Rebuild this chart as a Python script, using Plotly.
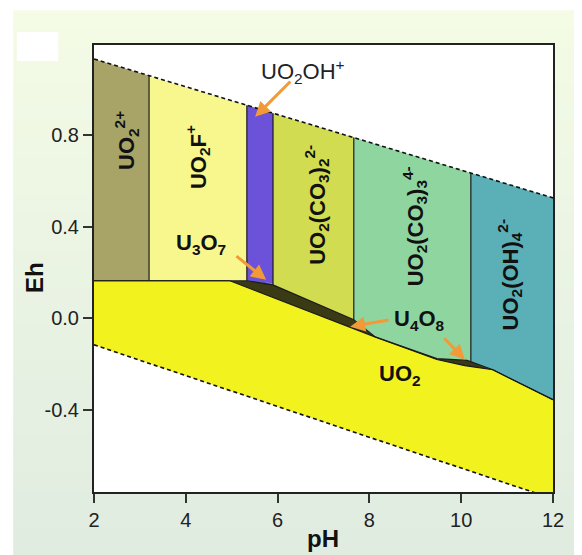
import numpy as np
import plotly.graph_objects as go

# ---------------- data ----------------
# water stability limits (dashed lines)
water_upper_ph = [2, 12]
water_upper_eh = [1.132, 0.525]
water_lower_ph = [2, 12]
water_lower_eh = [-0.117, -0.79]

# aqueous predominance fields (vertical boundaries in pH)
field_labels = [
    "<b>UO<sub>2</sub><sup>2+</sup></b>",
    "<b>UO<sub>2</sub>F<sup>+</sup></b>",
    "",
    "<b>UO<sub>2</sub>(CO<sub>3</sub>)<sub>2</sub><sup>2-</sup></b>",
    "<b>UO<sub>2</sub>(CO<sub>3</sub>)<sub>3</sub><sup>4-</sup></b>",
    "<b>UO<sub>2</sub>(OH)<sub>4</sub><sup>2-</sup></b>",
]
field_bounds_ph = [2, 3.20, 5.33, 5.90, 7.66, 10.21, 12]
field_colors = ["#A8A467", "#F7F78E", "#6B52D8", "#D2DC50", "#8FD5A0", "#5BAFB7"]
field_label_ph = [2.72, 4.27, None, 6.86, 8.99, 11.06]
field_label_eh = [0.774, 0.704, None, 0.495, 0.40, 0.19]

# lower boundary of aqueous fields (top of solid phases)
aq_bottom_ph = [2, 4.96, 5.33, 5.90, 7.66, 8.12, 9.47, 10.13, 10.69, 12]
aq_bottom_eh = [0.163, 0.163, 0.163, 0.145, -0.007, -0.082, -0.177, -0.185, -0.226, -0.357]

# top of UO2 field
uo2_top_ph = [2, 4.96, 8.12, 9.47, 10.08, 10.69, 12]
uo2_top_eh = [0.163, 0.163, -0.082, -0.181, -0.208, -0.226, -0.357]

# small U3O7 sliver
u3o7_ph = [5.72, 5.95, 6.08, 5.85]
u3o7_eh = [0.160, 0.146, 0.133, 0.150]

# callout arrows (head / tail)
arrow_head_ph = [5.51, 5.75, 7.58, 10.08]
arrow_head_eh = [0.879, 0.167, -0.038, -0.182]
arrow_tail_ph = [6.31, 5.07, 8.45, 9.60]
arrow_tail_eh = [1.040, 0.276, -0.007, -0.082]

x_ticks = [2, 4, 6, 8, 10, 12]
y_ticks = [-0.4, 0.0, 0.4, 0.8]
y_tick_text = ["-0.4", "0.0", "0.4", "0.8"]

# ---------------- figure ----------------
FONT = "Liberation Sans, Arial, sans-serif"
fig = go.Figure()


def upper(p):
    return float(np.interp(p, water_upper_ph, water_upper_eh))


def lower(p):
    return float(np.interp(p, water_lower_ph, water_lower_eh))


def aqbot(p):
    return float(np.interp(p, aq_bottom_ph, aq_bottom_eh))


# UO2 field
ux = list(uo2_top_ph) + [12, 2]
uy = list(uo2_top_eh) + [lower(12), lower(2)]
fig.add_trace(go.Scatter(x=ux, y=uy, fill="toself", fillcolor="#F2F21E",
                         mode="lines", line=dict(width=0), hoverinfo="skip"))

# dark U4O8/U3O7 bands between aqueous bottom and UO2 top
dx = list(aq_bottom_ph) + list(uo2_top_ph)[::-1]
dy = list(aq_bottom_eh) + list(uo2_top_eh)[::-1]
fig.add_trace(go.Scatter(x=dx, y=dy, fill="toself", fillcolor="#3A3A14",
                         mode="lines", line=dict(width=0, color="#3A3A14"), hoverinfo="skip"))

# aqueous fields
for i in range(len(field_colors)):
    a, b = field_bounds_ph[i], field_bounds_ph[i + 1]
    inner = [(p, e) for p, e in zip(aq_bottom_ph, aq_bottom_eh) if a < p < b]
    xs = [a, b, b] + [p for p, _ in inner[::-1]] + [a]
    ys = [upper(a), upper(b), aqbot(b)] + [e for _, e in inner[::-1]] + [aqbot(a)]
    fig.add_trace(go.Scatter(x=xs, y=ys, fill="toself", fillcolor=field_colors[i],
                             mode="lines", line=dict(width=0), hoverinfo="skip"))

# U3O7 sliver
fig.add_trace(go.Scatter(x=u3o7_ph, y=u3o7_eh, fill="toself", fillcolor="#D8D8D0",
                         mode="lines", line=dict(width=0), hoverinfo="skip"))

# boundary lines
bx, by = [], []
for p in field_bounds_ph[1:-1]:
    bx += [p, p, None]
    by += [aqbot(p), upper(p), None]
bx += list(aq_bottom_ph) + [None] + list(uo2_top_ph)
by += list(aq_bottom_eh) + [None] + list(uo2_top_eh)
fig.add_trace(go.Scatter(x=bx, y=by, mode="lines", line=dict(color="#1a1a1a", width=1.2),
                         hoverinfo="skip"))

# water lines (dashed)
fig.add_trace(go.Scatter(x=water_upper_ph, y=water_upper_eh, mode="lines",
                         line=dict(color="#111", width=1.6, dash="4px,3px"), hoverinfo="skip"))
fig.add_trace(go.Scatter(x=water_lower_ph, y=water_lower_eh, mode="lines",
                         line=dict(color="#111", width=1.6, dash="4px,3px"), hoverinfo="skip"))

LBL = 22
annotations = []
for lab, px, py in zip(field_labels, field_label_ph, field_label_eh):
    if px is None:
        continue
    annotations.append(dict(x=px, y=py, xref="x", yref="y", text=lab, showarrow=False,
                            textangle=-90, font=dict(family=FONT, size=LBL, color="#111")))
annotations.append(dict(x=8.67, y=-0.247, xref="x", yref="y", text="<b>UO<sub>2</sub></b>",
                        showarrow=False, font=dict(family=FONT, size=LBL, color="#111")))
annotations.append(dict(x=4.33, y=0.324, xref="x", yref="y", text="<b>U<sub>3</sub>O<sub>7</sub></b>",
                        showarrow=False, font=dict(family=FONT, size=LBL, color="#111")))
annotations.append(dict(x=9.10, y=-0.007, xref="x", yref="y", text="<b>U<sub>4</sub>O<sub>8</sub></b>",
                        showarrow=False, font=dict(family=FONT, size=LBL, color="#111")))
annotations.append(dict(x=6.55, y=1.076, xref="x", yref="y", text="UO<sub>2</sub>OH<sup>+</sup>",
                        showarrow=False, font=dict(family=FONT, size=LBL, color="#222")))
for hx, hy, tx, ty in zip(arrow_head_ph, arrow_head_eh, arrow_tail_ph, arrow_tail_eh):
    annotations.append(dict(x=hx, y=hy, xref="x", yref="y", ax=tx, ay=ty, axref="x", ayref="y",
                            text="", showarrow=True, arrowhead=2, arrowsize=1, arrowwidth=3,
                            arrowcolor="#F29A38"))
# axis titles
annotations.append(dict(x=0.499, y=-0.105, xref="paper", yref="paper", text="<b>pH</b>",
                        xanchor="center", yanchor="middle",
                        showarrow=False, font=dict(family=FONT, size=24, color="#111")))
annotations.append(dict(x=-0.1285, y=0.479, xref="paper", yref="paper", text="<b>Eh</b>",
                        xanchor="center", yanchor="middle",
                        textangle=-90, showarrow=False, font=dict(family=FONT, size=24, color="#111")))

# background gradient strips (paper coords)
shapes = []
n = 30
y_top, y_bot = 1.078, -0.16
c_top = np.array([244, 252, 230])
c_bot = np.array([225, 236, 225])
for k in range(n):
    t = k / (n - 1)
    c = (c_top * (1 - t) + c_bot * t).astype(int)
    y1 = y_top - (y_top - y_bot) * k / n
    y0 = y_top - (y_top - y_bot) * (k + 1) / n - 0.002
    shapes.append(dict(type="rect", xref="paper", yref="paper", x0=-0.176, x1=1.08,
                       y0=y0, y1=y1, fillcolor=f"rgb({c[0]},{c[1]},{c[2]})",
                       line=dict(width=0), layer="below"))
# white plot area and white box at top-left
shapes.append(dict(type="rect", xref="paper", yref="paper", x0=0, x1=1, y0=0, y1=1,
                   fillcolor="white", line=dict(width=0), layer="below"))
shapes.append(dict(type="rect", xref="paper", yref="paper", x0=-0.168, x1=-0.078, y0=0.964, y1=1.029,
                   fillcolor="white", line=dict(width=0), layer="below"))

# page body has an 8px default offset, so the figure is 8px smaller than the window
fig.update_layout(
    width=574, height=547,
    margin=dict(l=86, r=29, t=37, b=63),
    paper_bgcolor="white", plot_bgcolor="white",
    showlegend=False,
    annotations=annotations,
    shapes=shapes,
    font=dict(family=FONT),
)
fig.update_xaxes(range=[2, 12], tickvals=x_ticks, ticks="outside", ticklen=9, tickwidth=2,
                 tickcolor="#333", showline=True, linecolor="#222", linewidth=2, mirror=True,
                 showgrid=False, zeroline=False, tickfont=dict(family=FONT, size=20, color="#222"))
fig.update_yaxes(range=[-0.76, 1.193], tickvals=y_ticks, ticktext=y_tick_text, ticks="outside",
                 ticklen=9, tickwidth=2, tickcolor="#333", showline=True, linecolor="#222",
                 linewidth=2, mirror=True, showgrid=False, zeroline=False,
                 tickfont=dict(family=FONT, size=20, color="#222"))

fig.write_html("out.html")
